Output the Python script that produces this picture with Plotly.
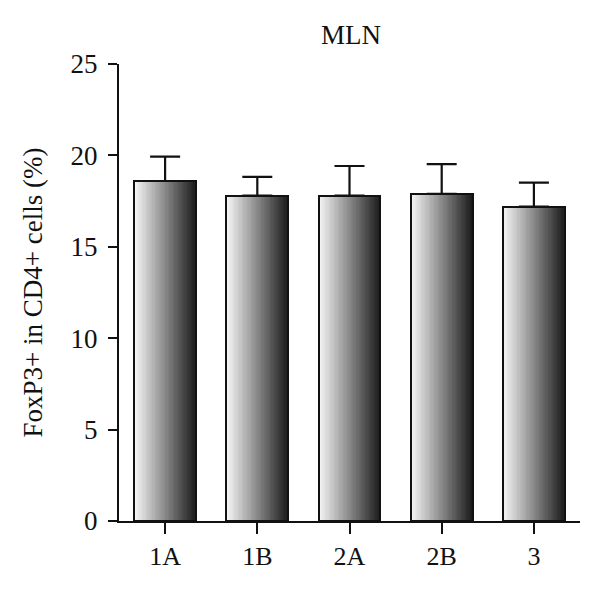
import plotly.graph_objects as go

categories = ["1A", "1B", "2A", "2B", "3"]
values = [18.6, 17.8, 17.8, 17.9, 17.2]
errors = [1.33, 1.03, 1.62, 1.62, 1.31]
y_ticks = [0, 5, 10, 15, 20, 25]
title_text = "MLN"
y_title = "FoxP3+ in CD4+ cells (%)"

FONT = "Liberation Serif"
bar_w = 0.67
n_strips = 48
c_left, c_right = 245, 28

fig = go.Figure()
step = bar_w / n_strips
for i in range(n_strips):
    t = i / (n_strips - 1)
    g = int(round(c_left + (c_right - c_left) * t))
    fig.add_trace(go.Bar(
        x=categories, y=values,
        width=step * 1.6, offset=-bar_w / 2 + i * step,
        marker=dict(color=f"rgb({g},{g},{g})", line=dict(width=0)),
        showlegend=False, hoverinfo="skip",
    ))

fig.add_trace(go.Bar(
    x=categories, y=values, width=bar_w,
    marker=dict(color="rgba(0,0,0,0)", line=dict(color="#111", width=2)),
    error_y=dict(type="data", symmetric=False, array=errors,
                 arrayminus=[0] * len(errors), color="#111",
                 thickness=2.2, width=15),
    showlegend=False,
))

fig.update_layout(
    width=584, height=580,
    margin=dict(l=111, r=12, t=56, b=67),
    barmode="overlay", bargap=0,
    plot_bgcolor="white", paper_bgcolor="white",
    font=dict(family=FONT, size=27, color="#111"),
    title=dict(text=title_text, xref="paper", x=0.503, xanchor="center",
               yref="container", y=0.955, yanchor="middle",
               font=dict(family=FONT, size=27, color="#111")),
    xaxis=dict(range=[-0.5, 4.5], showline=True, linecolor="#111", linewidth=2,
               ticks="outside", ticklen=11, tickwidth=2, tickcolor="#111",
               showgrid=False, zeroline=False, tickfont=dict(size=26)),
    yaxis=dict(range=[0, 25], tickvals=y_ticks, showline=True, linecolor="#111",
               linewidth=2, ticks="outside", ticklen=9, tickwidth=2,
               tickcolor="#111", showgrid=False, zeroline=False,
               tickfont=dict(size=27), ticklabelstandoff=5,
               title=dict(text=y_title, font=dict(size=27), standoff=20)),
)

fig.write_html("out.html")
